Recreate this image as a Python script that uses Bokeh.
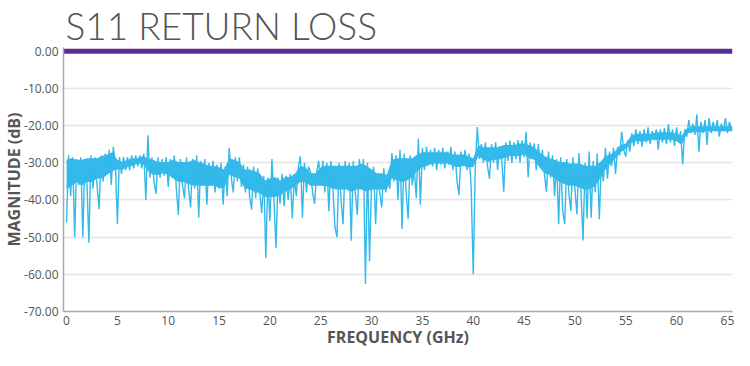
import numpy as np
from bokeh.plotting import figure
from bokeh.models import Range1d, FixedTicker, PrintfTickFormatter
from bokeh.embed import file_html
from bokeh.resources import INLINE

s11_db = [
    -46, -28, -39, -28.5, -50,          # 0
    -29, -36, -28.5, -50, -29,          # 1
    -35, -51.5, -28, -37, -28.5,        # 2
    -36, -42.5, -28, -35, -27.5,        # 3
    -33, -26.5, -36, -25.7, -30,        # 4
    -46.5, -28.5, -33, -28.5, -32,      # 5
    -28.5, -32, -28, -31.5, -28,        # 6
    -31, -28, -31.5, -27.5, -40,        # 7
    -22.6, -34, -28.5, -35, -38.3,      # 8
    -28.5, -34, -29, -33.5, -28.5,      # 9
    -36.5, -29, -34, -28, -37,          # 10
    -44, -29, -36, -39.6, -28.5,        # 11
    -37, -42, -29, -37, -28,            # 12
    -44.8, -29.5, -36, -29, -41.3,      # 13
    -30, -36, -29.5, -38, -30.5,        # 14
    -37, -30, -41.3, -31, -39,          # 15
    -26, -34, -38, -28.5, -35,          # 16
    -28.5, -36.5, -30.5, -38, -31,      # 17
    -39, -42.6, -31, -39.5, -31.5,      # 18
    -38, -43.5, -33.5, -55.6, -34,      # 19
    -45.7, -29, -40, -53, -34,          # 20
    -41, -33, -41.7, -33.5, -40,        # 21
    -33, -45, -34, -39, -31,            # 22
    -28.3, -44.8, -30, -38, -31,        # 23
    -32.5, -38, -41, -32.5, -29.5,      # 24
    -36, -29.5, -38, -30, -43,          # 25
    -29.5, -37, -47.4, -50, -30,        # 26
    -40, -46.5, -29.5, -36, -30,        # 27
    -51, -29.5, -38, -44, -29,          # 28
    -36, -29, -62.6, -30, -56.5,        # 29
    -35, -31, -46.5, -33, -38,          # 30
    -42, -31.5, -38, -33.5, -37,        # 31
    -27.4, -35, -28, -40, -26.5,        # 32
    -47.8, -27.5, -38, -45.2, -28,      # 33
    -36, -31.7, -39.5, -23.5, -41.3,    # 34
    -26, -32, -25.7, -30.5, -26.5,      # 35
    -31, -26, -32, -26.5, -30.5,        # 36
    -26, -31.5, -27, -30.5, -25.7,      # 37
    -32, -27, -34.8, -38.7, -27,        # 38
    -31, -26.5, -32, -27.5, -37,        # 39
    -60, -31, -20.4, -29, -25,          # 40
    -30, -24.5, -31, -34.3, -25,        # 41
    -30, -24.5, -32, -25.5, -29,        # 42
    -37.8, -24.5, -29.5, -24, -30,      # 43
    -24.5, -29, -23.9, -30, -24,        # 44
    -28.5, -21.7, -33.9, -24.5, -29,    # 45
    -24.8, -32, -25, -31, -26.5,        # 46
    -33, -37.8, -27, -34, -28,          # 47
    -39, -29, -46.5, -28.5, -43,        # 48
    -46.5, -29, -38, -43, -28.5,        # 49
    -37, -43.9, -27.4, -38, -50.9,      # 50
    -30, -45, -27, -44.8, -29.5,        # 51
    -38, -27.5, -45.2, -30, -35,        # 52
    -26, -34.3, -27, -31, -26,          # 53
    -33, -25.7, -28, -21.7, -26.5,      # 54
    -28.3, -24, -27, -22, -25.5,        # 55
    -21, -25, -21.5, -25.7, -21,        # 56
    -24.5, -20.5, -25, -21.5, -24,      # 57
    -21, -26.5, -21, -24.5, -20.7,      # 58
    -25, -19.6, -24.5, -21, -25.5,      # 59
    -20.5, -24, -21.5, -30.4, -21,      # 60
    -23, -18.5, -22, -19.5, -22.5,      # 61
    -17, -27, -19, -22, -18.5,          # 62
    -25.2, -18, -22, -19, -21.5,        # 63
    -18.5, -23, -19.5, -21.5, -18,      # 64
    -22, -19, -21.5,                    # 65
]
freq_step_ghz = 0.2
freq_ghz = np.round(np.arange(len(s11_db)) * freq_step_ghz, 1)

# solid core of the noisy trace: upper and lower edge every 0.5 GHz
band_upper_db = [
    -29.2, -28.8, -29.2, -29.2, -28.8, -28.8, -28.8, -28.2, -27.8, -27.2,    # 0-4.5
    -29.2, -29.8, -29.2, -28.8, -28.8, -28.2, -28.8, -29.2, -29.8, -29.8,    # 5-9.5
    -29.8, -29.2, -29.8, -29.8, -29.8, -29.2, -29.8, -30.2, -30.8, -30.8,    # 10-14.5
    -31.2, -31.8, -28.8, -29.2, -29.8, -31.8, -31.8, -32.2, -32.8, -34.8,    # 15-19.5
    -34.2, -33.8, -34.8, -33.8, -33.8, -32.8, -30.8, -31.2, -32.8, -32.8,    # 20-24.5
    -31.2, -30.8, -30.8, -30.8, -30.8, -30.8, -30.8, -30.8, -30.2, -30.8,    # 25-29.5
    -31.8, -32.8, -32.8, -33.2, -29.2, -28.8, -28.8, -28.8, -28.8, -27.8,    # 30-34.5
    -27.2, -27.2, -27.2, -27.2, -27.2, -27.2, -27.8, -27.8, -27.8, -28.2,    # 35-39.5
    -28.8, -25.2, -25.8, -25.8, -25.8, -25.8, -25.2, -25.2, -25.2, -24.8,    # 40-44.5
    -24.8, -25.2, -25.8, -27.2, -28.2, -28.8, -29.2, -29.8, -29.8, -30.2,    # 45-49.5
    -30.2, -30.2, -30.8, -30.8, -30.8, -29.8, -28.2, -27.8, -26.8, -25.2,    # 50-54.5
    -24.8, -22.8, -22.2, -22.2, -22.2, -22.2, -21.8, -21.8, -21.8, -21.8,    # 55-59.5
    -22.2, -22.8, -20.8, -20.2, -20.2, -20.2, -20.2, -20.2, -20.2, -20.2,    # 60-64.5
    -20.2, -20.2,                                                            # 65-65.5
]
band_lower_db = [
    -37.2, -36.2, -35.2, -36.2, -35.2, -35.2, -34.2, -34.2, -33.2, -32.2,    # 0-4.5
    -31.8, -31.8, -31.2, -30.8, -30.2, -30.2, -32.2, -33.2, -33.2, -32.8,    # 5-9.5
    -33.2, -34.2, -35.2, -35.2, -35.8, -36.2, -36.2, -36.2, -36.2, -36.2,    # 10-14.5
    -36.8, -36.8, -33.2, -33.8, -34.2, -36.8, -37.2, -37.8, -38.2, -39.2,    # 15-19.5
    -39.2, -39.2, -38.8, -37.8, -37.2, -36.2, -35.2, -35.2, -36.2, -36.2,    # 20-24.5
    -36.2, -36.2, -36.8, -37.2, -37.2, -37.2, -37.8, -37.2, -37.2, -37.8,    # 25-29.5
    -37.2, -37.2, -37.2, -37.2, -34.2, -34.8, -35.2, -34.8, -33.8, -32.2,    # 30-34.5
    -31.2, -30.8, -30.2, -30.2, -30.2, -30.2, -30.8, -31.2, -30.8, -31.2,    # 35-39.5
    -31.2, -28.2, -29.2, -29.8, -29.2, -29.2, -28.8, -28.2, -28.2, -28.2,    # 40-44.5
    -27.8, -28.8, -29.2, -31.2, -32.8, -33.2, -34.2, -35.2, -35.8, -36.2,    # 45-49.5
    -36.2, -36.8, -37.2, -37.2, -36.2, -34.2, -31.8, -30.2, -28.8, -27.2,    # 50-54.5
    -26.2, -24.8, -24.2, -24.2, -24.2, -23.8, -23.8, -23.8, -23.8, -23.8,    # 55-59.5
    -24.2, -25.2, -22.2, -21.8, -21.8, -21.8, -21.5, -21.5, -21.5, -21.5,    # 60-64.5
    -21.5, -21.5,                                                            # 65-65.5
]
band_step_ghz = 0.5
band_freq_ghz = np.arange(len(band_upper_db)) * band_step_ghz

# reference line at 0 dB across the full band
ref_freq_ghz = [-0.3, 65.5]
ref_db = [0.0, 0.0]

x_ticks = [0, 5, 10, 15, 20, 25, 30, 35, 40, 45, 50, 55, 60, 65]
y_ticks = [0, -10, -20, -30, -40, -50, -60, -70]

CYAN = "#33b9ea"

p = figure(width=734, height=350, output_backend="svg", toolbar_location=None,
           x_range=Range1d(-0.3, 65.5), y_range=Range1d(-70, 1.0),
           min_border_left=59, min_border_right=2, min_border_top=0,
           min_border_bottom=0, title="S11 RETURN LOSS")

p.title.text_font = "Lato Light"
p.title.text_font_size = "37px"
p.title.text_font_style = "normal"
p.title.text_color = "#555555"
p.title.align = "left"
p.title.standoff = 0
p.title.offset = 2

p.outline_line_color = None
p.background_fill_color = "white"
p.border_fill_color = "white"

p.xgrid.visible = False
p.ygrid.grid_line_color = "#e4e4e4"
p.ygrid.grid_line_width = 1.5

p.xaxis.ticker = FixedTicker(ticks=x_ticks)
p.yaxis.ticker = FixedTicker(ticks=y_ticks)
p.yaxis.formatter = PrintfTickFormatter(format="%.2f")

for ax in (p.xaxis[0], p.yaxis[0]):
    ax.major_tick_line_color = None
    ax.minor_tick_line_color = None
    ax.major_tick_out = 0
    ax.major_tick_in = 0
    ax.axis_line_color = "#a8a8a8"
    ax.axis_line_width = 1.5
    ax.major_label_text_font = "Open Sans"
    ax.major_label_text_font_size = "12px"
    ax.major_label_text_color = "#555555"
    ax.axis_label_text_font = "Open Sans"
    ax.axis_label_text_font_style = "bold"
    ax.axis_label_text_font_size = "16px"
    ax.axis_label_text_color = "#555555"

p.xaxis.axis_label = "FREQUENCY (GHz)"
p.yaxis.axis_label = "MAGNITUDE (dB)"
p.xaxis.major_label_standoff = 4
p.xaxis.axis_label_standoff = -2
p.yaxis.major_label_standoff = 5
p.yaxis.axis_label_standoff = -4

p.varea(x=band_freq_ghz, y1=band_lower_db, y2=band_upper_db, fill_color=CYAN, fill_alpha=1.0)
p.line(freq_ghz, s11_db, line_color=CYAN, line_width=1.4)
p.line(ref_freq_ghz, ref_db, line_color="#5c2d91", line_width=5)

open("out.html", "w").write(file_html(p, INLINE))
